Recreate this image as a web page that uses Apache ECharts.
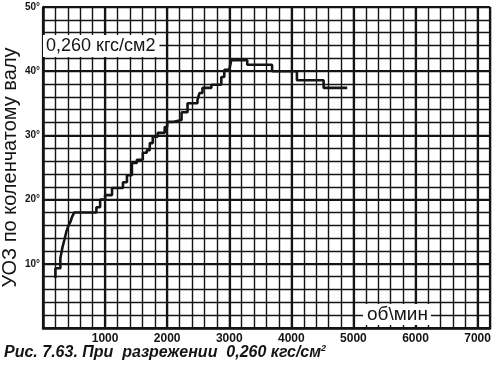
<!DOCTYPE html>
<html><head><meta charset="utf-8">
<script src="https://cdn.jsdelivr.net/npm/echarts@6/dist/echarts.min.js"></script>
<style>html,body{margin:0;padding:0;background:#fff}#c{width:500px;height:378px}</style>
</head><body><div id="c"></div>
<script>
// Step curve: at rpm[i] the advance angle becomes uoz[i]
const rpm = [200, 200, 280, 312, 344, 376, 408, 440, 472, 504, 860, 920, 1000, 1112, 1288, 1352, 1432, 1512, 1608, 1672, 1720, 1768, 1848, 1960, 2000, 2088, 2232, 2328, 2488, 2520, 2568, 2712, 2872, 2920, 3000, 3032, 3290, 3690, 4090, 4520, 4900];
const uoz = [7.8, 9.3, 10.9, 12.5, 13.7, 15, 15.9, 16.5, 17.4, 18, 18.8, 20, 20.7, 21.8, 22.7, 23.8, 25.7, 26.2, 27.3, 27.7, 28.8, 29.8, 30.4, 31.3, 32.1, 32.4, 33.6, 35, 35.5, 36.6, 37.4, 37.9, 39.1, 40.2, 40.5, 41.7, 41, 40, 38.6, 37.4, 37.4];
const xTickLabels = [1000, 2000, 3000, 4000, 5000, 6000, 7000];
const yTickLabels = [10, 20, 30, 40, 50];
const yName = 'УОЗ по коленчатому валу';
const xName = 'об\\мин';
const boxLabel = '0,260 кгс/см2';

const ink = '#141414';
const fam = '"Liberation Sans", Arial, sans-serif';
const chart = echarts.init(document.getElementById('c'), null, {renderer: 'canvas'});
chart.setOption({
  backgroundColor: '#fff',
  animation: false,
  grid: {left: 43, right: 10, top: 7, bottom: 50, containLabel: false, outerBoundsMode: 'none'},
  xAxis: [{
    type: 'value', min: 0, max: 7200, interval: 200,
    axisLine: {show: true, onZero: false, lineStyle: {color: ink, width: 2.5}},
    axisTick: {show: false},
    axisLabel: {
      color: ink, fontFamily: fam, fontWeight: 'bold', fontSize: 12, margin: 5,
      formatter: v => xTickLabels.includes(v) ? String(v) : ''
    },
    splitLine: {show: true, lineStyle: {color: ink, width: 1.4}}
  }, {
    type: 'value', min: 0, max: 7200, interval: 1000, position: 'top',
    axisLine: {show: false}, axisTick: {show: false}, axisLabel: {show: false},
    splitLine: {show: true, lineStyle: {color: ink, width: 2.2}}
  }],
  yAxis: [{
    type: 'value', min: 0, max: 50, interval: 2,
    name: yName, nameLocation: 'middle', nameGap: 23, nameMoveOverlap: false,
    nameTextStyle: {color: ink, fontFamily: fam, fontSize: 20},
    axisLine: {show: true, onZero: false, lineStyle: {color: ink, width: 2.5}},
    axisTick: {show: false},
    axisLabel: {
      color: ink, fontFamily: fam, fontWeight: 'bold', fontSize: 10, margin: 3,
      formatter: v => yTickLabels.includes(v) ? v + '°' : ''
    },
    splitLine: {show: true, lineStyle: {color: ink, width: 1.4}}
  }, {
    type: 'value', min: 0, max: 50, interval: 10, position: 'right',
    axisLine: {show: false}, axisTick: {show: false}, axisLabel: {show: false},
    splitLine: {show: true, lineStyle: {color: ink, width: 2.2}}
  }],
  title: {
    text: 'Рис. 7.63. При  разрежении  0,260 кгс/см{sup|2}',
    left: 4, top: 344, padding: 0,
    textStyle: {
      color: ink, fontFamily: fam, fontSize: 16, fontWeight: 'bold', fontStyle: 'italic',
      rich: {sup: {fontSize: 9, fontWeight: 'bold', fontStyle: 'italic', fontFamily: fam, color: ink, verticalAlign: 'top', padding: [0, 0, 9, 0]}}
    }
  },
  graphic: [{
    type: 'text', left: 43, top: 35, z: 100,
    style: {text: boxLabel, font: '18px ' + fam, fill: ink, backgroundColor: '#fff', padding: [2, 4, 2, 3]}
  }, {
    type: 'text', left: 363, top: 304, z: 100,
    style: {text: xName, font: '19px ' + fam, fill: ink, backgroundColor: '#fff', padding: [1, 3, 1, 4]}
  }],
  series: [{
    type: 'line', step: 'end', xAxisIndex: 0, yAxisIndex: 0,
    data: rpm.map((r, i) => [r, uoz[i]]),
    symbol: 'none', z: 10,
    lineStyle: {color: ink, width: 2.6}
  }]
});
</script></body></html>
